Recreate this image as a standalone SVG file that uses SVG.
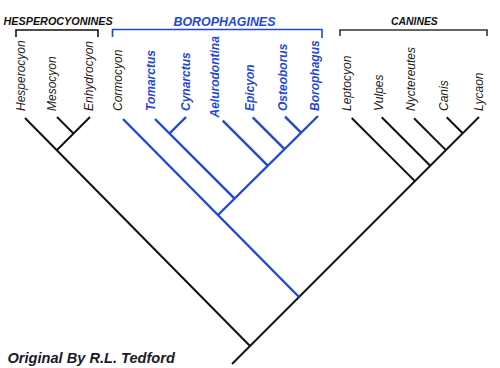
<svg xmlns="http://www.w3.org/2000/svg" width="500" height="368" viewBox="0 0 500 368">
<style>
.bk{stroke:#111;stroke-width:2;fill:none;stroke-linecap:butt}
.bl{stroke:#1f48d8;stroke-width:2.4;fill:none;stroke-linecap:butt}
.br{stroke-width:1.6;fill:none}
.sp{font-family:"Liberation Sans",Arial,sans-serif;font-size:12px;font-style:italic;fill:#1a1a1a}
.spb{font-family:"Liberation Sans",Arial,sans-serif;font-size:12px;font-style:italic;font-weight:bold;fill:#1f48d8}
.hd{font-family:"Liberation Sans",Arial,sans-serif;font-style:italic;font-weight:bold}
</style>
<rect width="500" height="368" fill="#fff"/>
<g id="connectors">
  <line class="bk" x1="232" y1="364" x2="479" y2="117"/>
  <line class="bk" x1="25" y1="118" x2="250" y2="346"/>
  <line class="bk" x1="57" y1="150" x2="90" y2="117"/>
  <line class="bk" x1="57" y1="117" x2="73.5" y2="133.5"/>
  <line class="bk" x1="351.7" y1="118" x2="414.9" y2="181.1"/>
  <line class="bk" x1="381.7" y1="117.3" x2="430.2" y2="165.8"/>
  <line class="bk" x1="414" y1="118.3" x2="445.9" y2="150.1"/>
  <line class="bk" x1="446.7" y1="117.3" x2="462.7" y2="133.3"/>
  <line class="bl" x1="123" y1="119" x2="299" y2="297"/>
  <line class="bl" x1="218" y1="215" x2="318" y2="116"/>
  <line class="bl" x1="155" y1="119" x2="234.6" y2="198.6"/>
  <line class="bl" x1="186" y1="117" x2="169.5" y2="133.5"/>
  <line class="bl" x1="222.7" y1="120.7" x2="267.7" y2="165.7"/>
  <line class="bl" x1="252.7" y1="117.3" x2="284.5" y2="149.1"/>
  <line class="bl" x1="285" y1="116.7" x2="301" y2="132.7"/>
</g>
<g id="group-hesperocyonines">
  <path class="br" stroke="#111" d="M16,37 V30 H98 V37"/>
  <text class="hd" x="3.5" y="25" font-size="10.8" fill="#111">HESPEROCYONINES</text>
</g>
<g id="group-borophagines">
  <path class="br" stroke="#1f48d8" stroke-width="2" d="M112.5,37 V29.5 H322 V38"/>
  <text class="hd" x="173.5" y="25.5" font-size="12.4" fill="#1f48d8">BOROPHAGINES</text>
</g>
<g id="group-canines">
  <path class="br" stroke="#333" d="M340,36 V30 H487 V36"/>
  <text class="hd" x="391" y="24.5" font-size="10.4" fill="#111">CANINES</text>
</g>
<g id="node-hesperocyon"><text class="sp" transform="translate(25,111) rotate(-90)">Hesperocyon</text></g>
<g id="node-mesocyon"><text class="sp" transform="translate(56,111) rotate(-90)">Mesocyon</text></g>
<g id="node-enhydrocyon"><text class="sp" transform="translate(92.5,111) rotate(-90)">Enhydrocyon</text></g>
<g id="node-cormocyon"><text class="sp" transform="translate(122,111) rotate(-90)">Cormocyon</text></g>
<g id="node-tomarctus"><text class="spb" transform="translate(155,111) rotate(-90)">Tomarctus</text></g>
<g id="node-cynarctus"><text class="spb" transform="translate(189.5,111) rotate(-90)">Cynarctus</text></g>
<g id="node-aelurodontina"><text class="spb" transform="translate(219,117.5) rotate(-90)">Aelurodontina</text></g>
<g id="node-epicyon"><text class="spb" transform="translate(253.5,111) rotate(-90)">Epicyon</text></g>
<g id="node-osteoborus"><text class="spb" transform="translate(287,111) rotate(-90)">Osteoborus</text></g>
<g id="node-borophagus"><text class="spb" transform="translate(319,111) rotate(-90)">Borophagus</text></g>
<g id="node-leptocyon"><text class="sp" transform="translate(351,111) rotate(-90)">Leptocyon</text></g>
<g id="node-vulpes"><text class="sp" transform="translate(383,111) rotate(-90)">Vulpes</text></g>
<g id="node-nyctereutes"><text class="sp" transform="translate(414.5,111) rotate(-90)">Nyctereutes</text></g>
<g id="node-canis"><text class="sp" transform="translate(448,111) rotate(-90)">Canis</text></g>
<g id="node-lycaon"><text class="sp" transform="translate(483,111) rotate(-90)">Lycaon</text></g>
<text class="hd" x="7.5" y="362.5" font-size="14.6" fill="#1a1a2a">Original By R.L. Tedford</text>
</svg>
